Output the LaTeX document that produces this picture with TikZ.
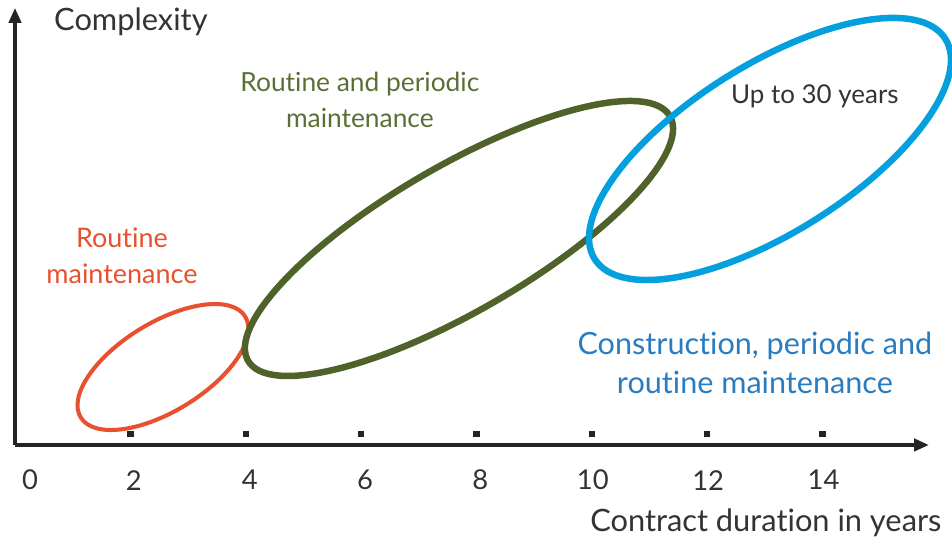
\documentclass[tikz,border=0pt]{standalone}
\usepackage{fontspec}
\setmainfont{Lato}[Ligatures={CommonOff,ContextualOff}]
\usetikzlibrary{arrows.meta}

\definecolor{txtgrey}{HTML}{333333}
\definecolor{routorange}{HTML}{E8512F}
\definecolor{perigreen}{HTML}{4E6229}
\definecolor{perigreentxt}{HTML}{5B6F35}
\definecolor{constblue}{HTML}{049FDD}
\definecolor{constbluetxt}{HTML}{2A7CC1}

\tikzset{
  axisline/.style={line width=2pt, txtgrey!70!black, -{Triangle[length=0.26cm, width=0.21cm]}},
  tickmark/.style={fill=txtgrey!70!black, minimum size=0.11cm, inner sep=0pt},
  ticklabel/.style={font=\fontsize{13.5}{16}\selectfont, text=txtgrey},
  lbl/.style={font=\fontsize{13.3}{18}\selectfont, align=center, inner sep=0pt},
  axislbl/.style={font=\fontsize{15.2}{18}\selectfont, text=txtgrey, inner sep=0pt}
}

\begin{document}
\begin{tikzpicture}
\useasboundingbox (-0.26,-1.682) rectangle (16.248,7.716);
\clip (-0.26,-1.682) rectangle (16.248,7.716);

% axes
\coordinate (orig) at (0,0);
\coordinate (ytop) at (0,7.58);
\coordinate (xend) at (15.85,0);
\draw[axisline] (orig) -- (ytop);
\draw[axisline] (orig) -- (xend);

% ticks
\node[tickmark] (t2) at (2,0.19) {};
\node[tickmark] (t4) at (4,0.19) {};
\node[tickmark] (t6) at (6,0.19) {};
\node[tickmark] (t8) at (8,0.19) {};
\node[tickmark] (t10) at (10,0.19) {};
\node[tickmark] (t12) at (12,0.19) {};
\node[tickmark] (t14) at (14,0.19) {};

\node[ticklabel] (l0) at (0.26,-0.61) {0};
\node[ticklabel] (l2) at (2.06,-0.61) {2};
\node[ticklabel] (l4) at (4.07,-0.61) {4};
\node[ticklabel] (l6) at (6.07,-0.61) {6};
\node[ticklabel] (l8) at (8.07,-0.61) {8};
\node[ticklabel] (l10) at (10.02,-0.61) {10};
\node[ticklabel] (l12) at (12.02,-0.61) {12};
\node[ticklabel] (l14) at (14.02,-0.61) {14};

% ellipses
\draw[routorange, line width=2pt, rotate around={31.5:(2.566,1.352)}] (2.566,1.352) ellipse (1.673 and 0.768);
\draw[perigreen, line width=3.2pt, rotate around={30.1:(7.699,3.581)}] (7.699,3.581) ellipse (4.228 and 1.259);
\draw[constblue, line width=3.2pt, rotate around={32.1:(13.092,5.133)}] (13.092,5.133) ellipse (3.59 and 1.457);

% labels
\node[axislbl] (ylab) at (2.01,7.33) {Complexity};
\node[axislbl] (xlab) at (13.02,-1.35) {Contract duration in years};
\node[lbl, text=routorange] (routine) at (1.855,3.277) {Routine\\maintenance};
\node[lbl, text=perigreentxt, font=\fontsize{13}{18}\selectfont] (periodic) at (5.98,5.98) {Routine and periodic\\maintenance};
\node[lbl, text=txtgrey, font=\fontsize{12.8}{16}\selectfont] (upto) at (13.87,6.05) {Up to 30 years};
\node[lbl, text=constbluetxt, font=\fontsize{15.1}{19}\selectfont] (construct) at (12.83,1.42) {Construction, periodic and\\routine maintenance};
\end{tikzpicture}
\end{document}
